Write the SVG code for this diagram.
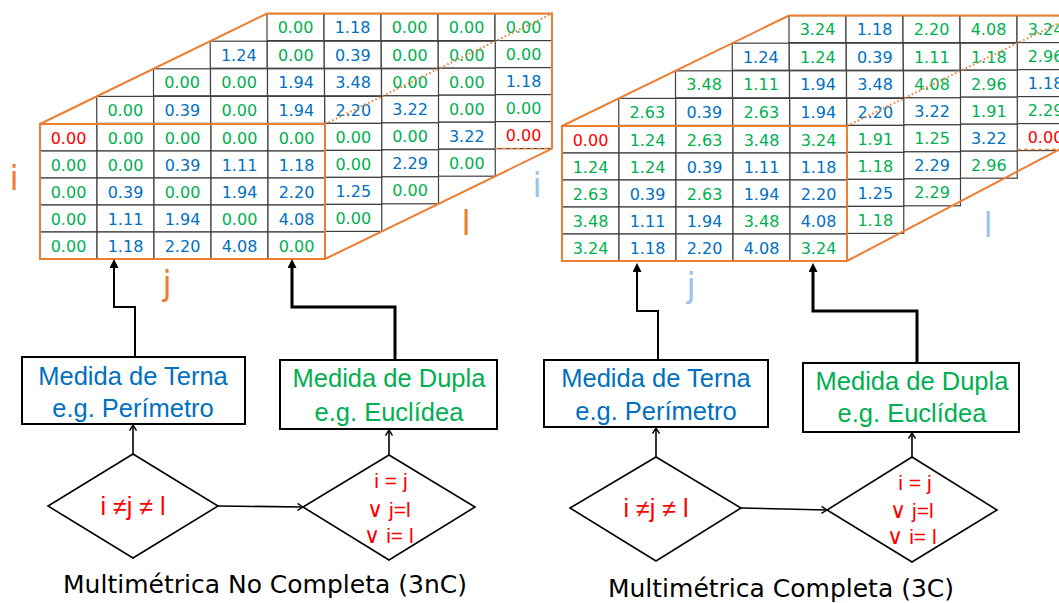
<svg xmlns="http://www.w3.org/2000/svg" width="1059" height="603" viewBox="0 0 1059 603">
  <defs>
    <style>
      .cell{fill:#fff;stroke:#404040;stroke-width:1.2}
      .v{font-family:"DejaVu Sans",Verdana,sans-serif;font-size:16px;text-anchor:middle}
      .g{fill:#00B050}
      .b{fill:#0070C0}
      .r{fill:#FF0000}
      .edge{fill:none;stroke:#ED7D31;stroke-width:2}
      .dot{fill:none;stroke:#ED7D31;stroke-width:2;stroke-dasharray:1.5 2.5}
      .dash{fill:none;stroke:#ED7D31;stroke-width:1.5;stroke-dasharray:4 3}
      .axis{font-family:"DejaVu Sans",Verdana,sans-serif;font-size:33px;text-anchor:middle}
      .ax1{fill:#ED7D31}
      .ax2{fill:#9DC3E6}
      .box{fill:#fff;stroke:#000;stroke-width:2}
      .dia{fill:#fff;stroke:#000;stroke-width:1.6}
      .bt{font-family:"Liberation Sans",Arial,sans-serif;font-size:25.5px;text-anchor:middle}
      .cond{font-family:"Liberation Sans","DejaVu Sans",Arial,sans-serif;fill:#FF0000;text-anchor:middle}
      .or{font-family:"DejaVu Sans",sans-serif;font-size:22px;font-weight:200}
      .cap{font-family:"DejaVu Sans",Verdana,sans-serif;font-size:25px;fill:#000;text-anchor:middle}
      .link{fill:none;stroke:#000;stroke-width:2}
      .link.thick{stroke-width:3}
      .flow{fill:none;stroke:#000;stroke-width:1.6}
    </style>
    <marker id="tri" viewBox="0 0 10 10" refX="0" refY="5" markerWidth="10" markerHeight="9" markerUnits="userSpaceOnUse" orient="auto">
      <path d="M0,0 L10,5 L0,10 z" fill="#000"/>
    </marker>
    <marker id="chev" viewBox="0 0 6 8" refX="6" refY="4" markerWidth="6" markerHeight="8" markerUnits="userSpaceOnUse" orient="auto">
      <path d="M0.5,0.5 L6,4 L0.5,7.5" fill="none" stroke="#000" stroke-width="1.4"/>
    </marker>
  </defs>
  <rect width="1059" height="603" fill="#fff"/>

  <!-- Tensor 3nC: slices drawn back to front -->
  <g id="tensor-3nC">
    <g transform="translate(267,13.6)">
      <rect class="cell" x="0" y="0" width="57" height="27"/><rect class="cell" x="57" y="0" width="57" height="27"/><rect class="cell" x="114" y="0" width="57" height="27"/><rect class="cell" x="171" y="0" width="57" height="27"/><rect class="cell" x="228" y="0" width="57" height="27"/>
      <rect class="cell" x="228" y="27" width="57" height="27"/><rect class="cell" x="228" y="54" width="57" height="27"/><rect class="cell" x="228" y="81" width="57" height="27"/><rect class="cell" x="228" y="108" width="57" height="27"/>
      <text class="v g" x="28.5" y="19.5">0.00</text><text class="v b" x="85.5" y="19.5">1.18</text><text class="v g" x="142.5" y="19.5">0.00</text><text class="v g" x="199.5" y="19.5">0.00</text><text class="v g" x="256.5" y="19.5">0.00</text>
      <text class="v g" x="256.5" y="46.5">0.00</text><text class="v b" x="256.5" y="73.5">1.18</text><text class="v g" x="256.5" y="100.5">0.00</text><text class="v r" x="256.5" y="127.5">0.00</text>
    </g>
    <g transform="translate(210.25,41.2)">
      <rect class="cell" x="0" y="0" width="57" height="27"/><rect class="cell" x="57" y="0" width="57" height="27"/><rect class="cell" x="114" y="0" width="57" height="27"/><rect class="cell" x="171" y="0" width="57" height="27"/><rect class="cell" x="228" y="0" width="57" height="27"/>
      <rect class="cell" x="228" y="27" width="57" height="27"/><rect class="cell" x="228" y="54" width="57" height="27"/><rect class="cell" x="228" y="81" width="57" height="27"/><rect class="cell" x="228" y="108" width="57" height="27"/>
      <text class="v b" x="28.5" y="19.5">1.24</text><text class="v g" x="85.5" y="19.5">0.00</text><text class="v b" x="142.5" y="19.5">0.39</text><text class="v g" x="199.5" y="19.5">0.00</text><text class="v g" x="256.5" y="19.5">0.00</text>
      <text class="v g" x="256.5" y="46.5">0.00</text><text class="v g" x="256.5" y="73.5">0.00</text><text class="v b" x="256.5" y="100.5">3.22</text><text class="v g" x="256.5" y="127.5">0.00</text>
    </g>
    <g transform="translate(153.5,68.8)">
      <rect class="cell" x="0" y="0" width="57" height="27"/><rect class="cell" x="57" y="0" width="57" height="27"/><rect class="cell" x="114" y="0" width="57" height="27"/><rect class="cell" x="171" y="0" width="57" height="27"/><rect class="cell" x="228" y="0" width="57" height="27"/>
      <rect class="cell" x="228" y="27" width="57" height="27"/><rect class="cell" x="228" y="54" width="57" height="27"/><rect class="cell" x="228" y="81" width="57" height="27"/><rect class="cell" x="228" y="108" width="57" height="27"/>
      <text class="v g" x="28.5" y="19.5">0.00</text><text class="v g" x="85.5" y="19.5">0.00</text><text class="v b" x="142.5" y="19.5">1.94</text><text class="v b" x="199.5" y="19.5">3.48</text><text class="v g" x="256.5" y="19.5">0.00</text>
      <text class="v b" x="256.5" y="46.5">3.22</text><text class="v g" x="256.5" y="73.5">0.00</text><text class="v b" x="256.5" y="100.5">2.29</text><text class="v g" x="256.5" y="127.5">0.00</text>
    </g>
    <g transform="translate(96.75,96.4)">
      <rect class="cell" x="0" y="0" width="57" height="27"/><rect class="cell" x="57" y="0" width="57" height="27"/><rect class="cell" x="114" y="0" width="57" height="27"/><rect class="cell" x="171" y="0" width="57" height="27"/><rect class="cell" x="228" y="0" width="57" height="27"/>
      <rect class="cell" x="228" y="27" width="57" height="27"/><rect class="cell" x="228" y="54" width="57" height="27"/><rect class="cell" x="228" y="81" width="57" height="27"/><rect class="cell" x="228" y="108" width="57" height="27"/>
      <text class="v g" x="28.5" y="19.5">0.00</text><text class="v b" x="85.5" y="19.5">0.39</text><text class="v g" x="142.5" y="19.5">0.00</text><text class="v b" x="199.5" y="19.5">1.94</text><text class="v b" x="256.5" y="19.5">2.20</text>
      <text class="v g" x="256.5" y="46.5">0.00</text><text class="v g" x="256.5" y="73.5">0.00</text><text class="v b" x="256.5" y="100.5">1.25</text><text class="v g" x="256.5" y="127.5">0.00</text>
    </g>
    <g transform="translate(40,124)">
      <rect class="cell" x="0" y="0" width="57" height="27"/><rect class="cell" x="57" y="0" width="57" height="27"/><rect class="cell" x="114" y="0" width="57" height="27"/><rect class="cell" x="171" y="0" width="57" height="27"/><rect class="cell" x="228" y="0" width="57" height="27"/>
      <rect class="cell" x="0" y="27" width="57" height="27"/><rect class="cell" x="57" y="27" width="57" height="27"/><rect class="cell" x="114" y="27" width="57" height="27"/><rect class="cell" x="171" y="27" width="57" height="27"/><rect class="cell" x="228" y="27" width="57" height="27"/>
      <rect class="cell" x="0" y="54" width="57" height="27"/><rect class="cell" x="57" y="54" width="57" height="27"/><rect class="cell" x="114" y="54" width="57" height="27"/><rect class="cell" x="171" y="54" width="57" height="27"/><rect class="cell" x="228" y="54" width="57" height="27"/>
      <rect class="cell" x="0" y="81" width="57" height="27"/><rect class="cell" x="57" y="81" width="57" height="27"/><rect class="cell" x="114" y="81" width="57" height="27"/><rect class="cell" x="171" y="81" width="57" height="27"/><rect class="cell" x="228" y="81" width="57" height="27"/>
      <rect class="cell" x="0" y="108" width="57" height="27"/><rect class="cell" x="57" y="108" width="57" height="27"/><rect class="cell" x="114" y="108" width="57" height="27"/><rect class="cell" x="171" y="108" width="57" height="27"/><rect class="cell" x="228" y="108" width="57" height="27"/>
      <text class="v r" x="28.5" y="19.5">0.00</text><text class="v g" x="85.5" y="19.5">0.00</text><text class="v g" x="142.5" y="19.5">0.00</text><text class="v g" x="199.5" y="19.5">0.00</text><text class="v g" x="256.5" y="19.5">0.00</text>
      <text class="v g" x="28.5" y="46.5">0.00</text><text class="v g" x="85.5" y="46.5">0.00</text><text class="v b" x="142.5" y="46.5">0.39</text><text class="v b" x="199.5" y="46.5">1.11</text><text class="v b" x="256.5" y="46.5">1.18</text>
      <text class="v g" x="28.5" y="73.5">0.00</text><text class="v b" x="85.5" y="73.5">0.39</text><text class="v g" x="142.5" y="73.5">0.00</text><text class="v b" x="199.5" y="73.5">1.94</text><text class="v b" x="256.5" y="73.5">2.20</text>
      <text class="v g" x="28.5" y="100.5">0.00</text><text class="v b" x="85.5" y="100.5">1.11</text><text class="v b" x="142.5" y="100.5">1.94</text><text class="v g" x="199.5" y="100.5">0.00</text><text class="v b" x="256.5" y="100.5">4.08</text>
      <text class="v g" x="28.5" y="127.5">0.00</text><text class="v b" x="85.5" y="127.5">1.18</text><text class="v b" x="142.5" y="127.5">2.20</text><text class="v b" x="199.5" y="127.5">4.08</text><text class="v g" x="256.5" y="127.5">0.00</text>
    </g>
    <!-- box outline -->
    <rect class="edge" x="40" y="124" width="285" height="135"/>
    <path class="edge" d="M40,124 L267,13.6 H552 V148.6 M325,259 L552,148.6"/>
    <path class="dot" d="M325,124 L552,13.6"/>
    <path class="dash" d="M495,148.6 H552"/>
    <text class="axis ax1" x="14" y="190">i</text>
    <text class="axis ax1" x="167" y="295">j</text>
    <text class="axis ax1" x="466" y="235">l</text>
  </g>

  <!-- Tensor 3C: slices drawn back to front -->
  <g id="tensor-3C">
    <g transform="translate(789,15.6)">
      <rect class="cell" x="0" y="0" width="57" height="27"/><rect class="cell" x="57" y="0" width="57" height="27"/><rect class="cell" x="114" y="0" width="57" height="27"/><rect class="cell" x="171" y="0" width="57" height="27"/><rect class="cell" x="228" y="0" width="57" height="27"/>
      <rect class="cell" x="228" y="27" width="57" height="27"/><rect class="cell" x="228" y="54" width="57" height="27"/><rect class="cell" x="228" y="81" width="57" height="27"/><rect class="cell" x="228" y="108" width="57" height="27"/>
      <text class="v g" x="28.5" y="19.5">3.24</text><text class="v b" x="85.5" y="19.5">1.18</text><text class="v g" x="142.5" y="19.5">2.20</text><text class="v g" x="199.5" y="19.5">4.08</text><text class="v g" x="256.5" y="19.5">3.24</text>
      <text class="v g" x="256.5" y="46.5">2.96</text><text class="v b" x="256.5" y="73.5">1.18</text><text class="v g" x="256.5" y="100.5">2.29</text><text class="v r" x="256.5" y="127.5">0.00</text>
    </g>
    <g transform="translate(732.25,43.2)">
      <rect class="cell" x="0" y="0" width="57" height="27"/><rect class="cell" x="57" y="0" width="57" height="27"/><rect class="cell" x="114" y="0" width="57" height="27"/><rect class="cell" x="171" y="0" width="57" height="27"/><rect class="cell" x="228" y="0" width="57" height="27"/>
      <rect class="cell" x="228" y="27" width="57" height="27"/><rect class="cell" x="228" y="54" width="57" height="27"/><rect class="cell" x="228" y="81" width="57" height="27"/><rect class="cell" x="228" y="108" width="57" height="27"/>
      <text class="v b" x="28.5" y="19.5">1.24</text><text class="v g" x="85.5" y="19.5">1.24</text><text class="v b" x="142.5" y="19.5">0.39</text><text class="v g" x="199.5" y="19.5">1.11</text><text class="v g" x="256.5" y="19.5">1.18</text>
      <text class="v g" x="256.5" y="46.5">2.96</text><text class="v g" x="256.5" y="73.5">1.91</text><text class="v b" x="256.5" y="100.5">3.22</text><text class="v g" x="256.5" y="127.5">2.96</text>
    </g>
    <g transform="translate(675.5,70.8)">
      <rect class="cell" x="0" y="0" width="57" height="27"/><rect class="cell" x="57" y="0" width="57" height="27"/><rect class="cell" x="114" y="0" width="57" height="27"/><rect class="cell" x="171" y="0" width="57" height="27"/><rect class="cell" x="228" y="0" width="57" height="27"/>
      <rect class="cell" x="228" y="27" width="57" height="27"/><rect class="cell" x="228" y="54" width="57" height="27"/><rect class="cell" x="228" y="81" width="57" height="27"/><rect class="cell" x="228" y="108" width="57" height="27"/>
      <text class="v g" x="28.5" y="19.5">3.48</text><text class="v g" x="85.5" y="19.5">1.11</text><text class="v b" x="142.5" y="19.5">1.94</text><text class="v b" x="199.5" y="19.5">3.48</text><text class="v g" x="256.5" y="19.5">4.08</text>
      <text class="v b" x="256.5" y="46.5">3.22</text><text class="v g" x="256.5" y="73.5">1.25</text><text class="v b" x="256.5" y="100.5">2.29</text><text class="v g" x="256.5" y="127.5">2.29</text>
    </g>
    <g transform="translate(618.75,98.4)">
      <rect class="cell" x="0" y="0" width="57" height="27"/><rect class="cell" x="57" y="0" width="57" height="27"/><rect class="cell" x="114" y="0" width="57" height="27"/><rect class="cell" x="171" y="0" width="57" height="27"/><rect class="cell" x="228" y="0" width="57" height="27"/>
      <rect class="cell" x="228" y="27" width="57" height="27"/><rect class="cell" x="228" y="54" width="57" height="27"/><rect class="cell" x="228" y="81" width="57" height="27"/><rect class="cell" x="228" y="108" width="57" height="27"/>
      <text class="v g" x="28.5" y="19.5">2.63</text><text class="v b" x="85.5" y="19.5">0.39</text><text class="v g" x="142.5" y="19.5">2.63</text><text class="v b" x="199.5" y="19.5">1.94</text><text class="v b" x="256.5" y="19.5">2.20</text>
      <text class="v g" x="256.5" y="46.5">1.91</text><text class="v g" x="256.5" y="73.5">1.18</text><text class="v b" x="256.5" y="100.5">1.25</text><text class="v g" x="256.5" y="127.5">1.18</text>
    </g>
    <g transform="translate(562,126)">
      <rect class="cell" x="0" y="0" width="57" height="27"/><rect class="cell" x="57" y="0" width="57" height="27"/><rect class="cell" x="114" y="0" width="57" height="27"/><rect class="cell" x="171" y="0" width="57" height="27"/><rect class="cell" x="228" y="0" width="57" height="27"/>
      <rect class="cell" x="0" y="27" width="57" height="27"/><rect class="cell" x="57" y="27" width="57" height="27"/><rect class="cell" x="114" y="27" width="57" height="27"/><rect class="cell" x="171" y="27" width="57" height="27"/><rect class="cell" x="228" y="27" width="57" height="27"/>
      <rect class="cell" x="0" y="54" width="57" height="27"/><rect class="cell" x="57" y="54" width="57" height="27"/><rect class="cell" x="114" y="54" width="57" height="27"/><rect class="cell" x="171" y="54" width="57" height="27"/><rect class="cell" x="228" y="54" width="57" height="27"/>
      <rect class="cell" x="0" y="81" width="57" height="27"/><rect class="cell" x="57" y="81" width="57" height="27"/><rect class="cell" x="114" y="81" width="57" height="27"/><rect class="cell" x="171" y="81" width="57" height="27"/><rect class="cell" x="228" y="81" width="57" height="27"/>
      <rect class="cell" x="0" y="108" width="57" height="27"/><rect class="cell" x="57" y="108" width="57" height="27"/><rect class="cell" x="114" y="108" width="57" height="27"/><rect class="cell" x="171" y="108" width="57" height="27"/><rect class="cell" x="228" y="108" width="57" height="27"/>
      <text class="v r" x="28.5" y="19.5">0.00</text><text class="v g" x="85.5" y="19.5">1.24</text><text class="v g" x="142.5" y="19.5">2.63</text><text class="v g" x="199.5" y="19.5">3.48</text><text class="v g" x="256.5" y="19.5">3.24</text>
      <text class="v g" x="28.5" y="46.5">1.24</text><text class="v g" x="85.5" y="46.5">1.24</text><text class="v b" x="142.5" y="46.5">0.39</text><text class="v b" x="199.5" y="46.5">1.11</text><text class="v b" x="256.5" y="46.5">1.18</text>
      <text class="v g" x="28.5" y="73.5">2.63</text><text class="v b" x="85.5" y="73.5">0.39</text><text class="v g" x="142.5" y="73.5">2.63</text><text class="v b" x="199.5" y="73.5">1.94</text><text class="v b" x="256.5" y="73.5">2.20</text>
      <text class="v g" x="28.5" y="100.5">3.48</text><text class="v b" x="85.5" y="100.5">1.11</text><text class="v b" x="142.5" y="100.5">1.94</text><text class="v g" x="199.5" y="100.5">3.48</text><text class="v b" x="256.5" y="100.5">4.08</text>
      <text class="v g" x="28.5" y="127.5">3.24</text><text class="v b" x="85.5" y="127.5">1.18</text><text class="v b" x="142.5" y="127.5">2.20</text><text class="v b" x="199.5" y="127.5">4.08</text><text class="v g" x="256.5" y="127.5">3.24</text>
    </g>
    <!-- box outline -->
    <rect class="edge" x="562" y="126" width="285" height="135"/>
    <path class="edge" d="M562,126 L789,15.6 H1074 M847,261 L1060,149"/>
    <path class="dot" d="M847,126 L1074,15.6"/>
    <path class="dash" d="M1017,149.5 H1060"/>
    <text class="axis ax2" x="537" y="197">i</text>
    <text class="axis ax2" x="691" y="297">j</text>
    <text class="axis ax2" x="988" y="237">l</text>
  </g>

  <!-- connectors -->
  <g id="connectors">
    <path class="link" d="M135,357 V307 H114 V268" marker-end="url(#tri)"/>
    <path class="link thick" d="M395,360 V307 H292 V268" marker-end="url(#tri)"/>
    <path class="link" d="M658,360 V311 H637 V272" marker-end="url(#tri)"/>
    <path class="link thick" d="M917,363 V311 H813 V272" marker-end="url(#tri)"/>
    <path class="flow" d="M133,454 V425" marker-end="url(#chev)"/>
    <path class="flow" d="M389,455 V430" marker-end="url(#chev)"/>
    <path class="flow" d="M218,506 L303,507" marker-end="url(#chev)"/>
    <path class="flow" d="M656,457 V428" marker-end="url(#chev)"/>
    <path class="flow" d="M912,457 V433" marker-end="url(#chev)"/>
    <path class="flow" d="M741,508 L827,510" marker-end="url(#chev)"/>
  </g>

  <!-- 3nC decision chain -->
  <g id="terna-3nC">
    <rect class="box" x="22" y="357" width="223" height="67"/>
    <text class="bt b" x="133" y="385">Medida de Terna</text>
    <text class="bt b" x="133" y="417">e.g. Perímetro</text>
  </g>
  <g id="dupla-3nC">
    <rect class="box" x="280" y="360" width="217" height="69"/>
    <text class="bt g" x="389" y="387">Medida de Dupla</text>
    <text class="bt g" x="389" y="421">e.g. Euclídea</text>
  </g>
  <g id="cond-terna-3nC">
    <polygon class="dia" points="133,454 218,506 133,558 48,506"/>
    <text class="cond" x="133" y="515" font-size="25">i ≠j ≠ l</text>
  </g>
  <g id="cond-dupla-3nC">
    <polygon class="dia" points="389,455 475,507 389,560 303,507"/>
    <text class="cond" x="391" y="488" font-size="21">i = j</text>
    <text class="cond" x="389" y="517" font-size="21"><tspan class="or">∨</tspan> j=l</text>
    <text class="cond" x="389" y="543" font-size="21"><tspan class="or">∨</tspan> i= l</text>
  </g>
  <text class="cap" x="265" y="593">Multimétrica No Completa (3nC)</text>

  <!-- 3C decision chain -->
  <g id="terna-3C">
    <rect class="box" x="544" y="360" width="224" height="67"/>
    <text class="bt b" x="656" y="387">Medida de Terna</text>
    <text class="bt b" x="656" y="420">e.g. Perímetro</text>
  </g>
  <g id="dupla-3C">
    <rect class="box" x="803" y="363" width="216" height="69"/>
    <text class="bt g" x="912" y="390">Medida de Dupla</text>
    <text class="bt g" x="912" y="422">e.g. Euclídea</text>
  </g>
  <g id="cond-terna-3C">
    <polygon class="dia" points="656,457 741,508 656,561 570,508"/>
    <text class="cond" x="656" y="517" font-size="25">i ≠j ≠ l</text>
  </g>
  <g id="cond-dupla-3C">
    <polygon class="dia" points="912,457 997,510 912,562 827,510"/>
    <text class="cond" x="915" y="490" font-size="21">i = j</text>
    <text class="cond" x="912" y="518" font-size="21"><tspan class="or">∨</tspan> j=l</text>
    <text class="cond" x="912" y="544" font-size="21"><tspan class="or">∨</tspan> i= l</text>
  </g>
  <text class="cap" x="781" y="597">Multimétrica Completa (3C)</text>
</svg>
